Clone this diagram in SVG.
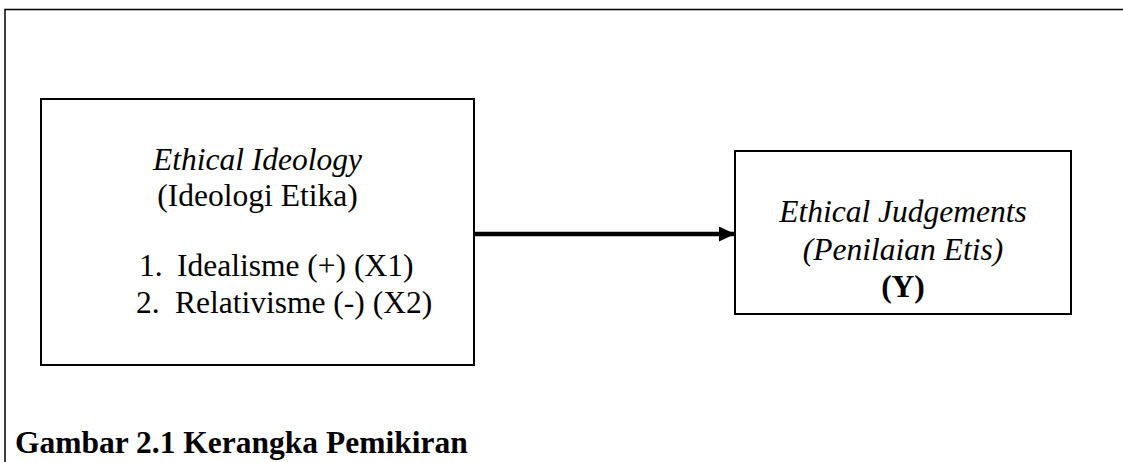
<svg xmlns="http://www.w3.org/2000/svg" width="1123" height="462" viewBox="0 0 1123 462">
<style>
  .box { fill: #ffffff; stroke: #000000; stroke-width: 2; }
  .frame { fill: none; stroke: #000000; stroke-width: 1.5; }
  .t { font-family: "Liberation Serif", "Times New Roman", serif; font-size: 31.5px; fill: #000000; }
  .it { font-style: italic; }
  .b { font-weight: bold; }
  .c { text-anchor: middle; }
  .conn { stroke: #000000; stroke-width: 4.5; fill: none; }
</style>
<defs>
  <marker id="arrow" markerUnits="userSpaceOnUse" markerWidth="17" markerHeight="16" refX="16" refY="7.5" orient="auto">
    <polygon points="0,0 16,7.5 0,15" fill="#000000"/>
  </marker>
</defs>
<rect x="0" y="0" width="1123" height="462" fill="#ffffff"/>
<g id="frame">
  <polyline class="frame" points="5,462 5,9.5 1123,9.5"/>
</g>
<g id="connectors">
  <line class="conn" x1="475" y1="234" x2="735" y2="234" marker-end="url(#arrow)"/>
</g>
<g id="node-ideology">
  <rect class="box" x="41" y="99" width="433" height="266"/>
  <text class="t it c" x="257.5" y="170">Ethical Ideology</text>
  <text class="t c" x="257.5" y="206">(Ideologi Etika)</text>
  <text class="t" x="139" y="276">1.</text>
  <text class="t" x="177" y="276">Idealisme (+) (X1)</text>
  <text class="t" x="136" y="313">2.</text>
  <text class="t" x="175" y="313">Relativisme (-) (X2)</text>
</g>
<g id="node-judgements">
  <rect class="box" x="735" y="151" width="336" height="163"/>
  <text class="t it c" x="903" y="222">Ethical Judgements</text>
  <text class="t it c" x="903" y="259.5">(Penilaian Etis)</text>
  <text class="t b c" x="903" y="297">(Y)</text>
</g>
<g id="caption">
  <text class="t b" x="15" y="453">Gambar 2.1 Kerangka Pemikiran</text>
</g>
</svg>
